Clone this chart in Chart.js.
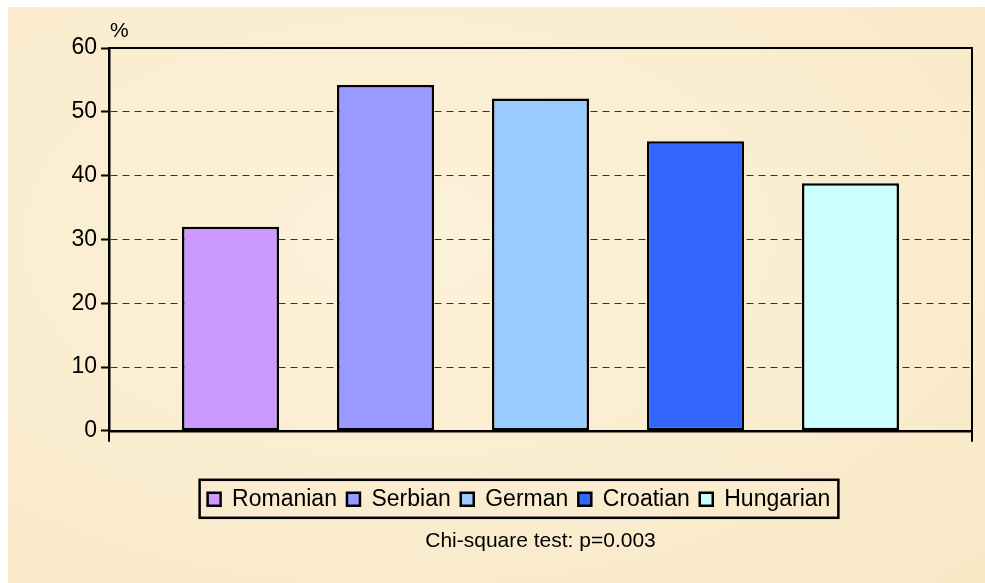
<!DOCTYPE html>
<html lang="en">
  <head>
    <meta charset="UTF-8" />
    <script src="https://cdn.jsdelivr.net/npm/chart.js@4.4.0/dist/chart.umd.min.js"></script>
    <title>Share by group</title>
    <style>
      html, body { margin: 0; padding: 0; background: #fff; }
      #wrap {
        position: absolute; left: 8px; top: 7px; width: 977px; height: 576px;
        background: radial-gradient(ellipse at 40% 40%, #fcf1da 0%, #faecce 60%, #f8e8c6 100%);
      }
    </style>
  </head>
  <body>
    <div id="wrap"><canvas id="myChart" width="977" height="576"></canvas></div>

    <script>
      const groups = ["Romanian", "Serbian", "German", "Croatian", "Hungarian"];
      const percents = [32.0, 54.2, 52.1, 45.4, 38.8];
      const colors = ["#cc99ff", "#9999ff", "#99ccff", "#3366ff", "#ccffff"];
      const yTicks = [0, 10, 20, 30, 40, 50, 60];
      const note = "Chi-square test: p=0.003";
      const FONT = "'Liberation Sans', Arial, sans-serif";
      const LEGEND_SHIFT = 29; // legend sits a bit right of the canvas middle

      // frame, end ticks, % label and box round the legend
      const decorations = {
        id: "decorations",
        afterUpdate(chart) {
          const lg = chart.legend;
          lg.left += LEGEND_SHIFT;
          lg.right += LEGEND_SHIFT;
          lg.legendHitBoxes.forEach((b) => { b.left += LEGEND_SHIFT; });
        },
        afterDraw(chart) {
          const { ctx, chartArea: a } = chart;
          ctx.save();
          ctx.strokeStyle = "#000";
          ctx.lineWidth = 2;
          ctx.beginPath();
          ctx.moveTo(a.left, a.top);
          ctx.lineTo(a.right, a.top);
          ctx.lineTo(a.right, a.bottom);
          ctx.stroke();
          ctx.beginPath();
          ctx.moveTo(a.left, a.bottom);
          ctx.lineTo(a.left, a.bottom + 11);
          ctx.moveTo(a.right, a.bottom);
          ctx.lineTo(a.right, a.bottom + 11);
          ctx.stroke();

          ctx.fillStyle = "#000";
          ctx.font = "21px " + FONT;
          ctx.textBaseline = "middle";
          ctx.fillText("%", a.left + 1, a.top - 17);

          const boxes = chart.legend.legendHitBoxes;
          if (boxes && boxes.length) {
            const l = Math.min(...boxes.map((b) => b.left)) - 8;
            const r = Math.max(...boxes.map((b) => b.left + b.width)) + 8;
            const t = Math.min(...boxes.map((b) => b.top)) - 8;
            const btm = Math.max(...boxes.map((b) => b.top + b.height)) + 7;
            ctx.lineWidth = 2.5;
            ctx.strokeRect(l, t, r - l, btm - t);
          }
          ctx.restore();
        },
      };

      const ctx = document.getElementById("myChart").getContext("2d");
      new Chart(ctx, {
        type: "bar",
        data: {
          labels: [""],
          datasets: groups.map((g, i) => ({
            label: g,
            data: [percents[i]],
            backgroundColor: colors[i],
            borderColor: "#000",
            borderWidth: 2.5,
            borderSkipped: false,
          })),
        },
        options: {
          responsive: false,
          animation: false,
          categoryPercentage: 0.898,
          barPercentage: 0.626,
          layout: { padding: { left: 0, right: 13, top: 41, bottom: 29 } },
          scales: {
            x: {
              ticks: { display: false },
              grid: { display: false },
              border: { display: true, color: "#000", width: 2.5 },
              afterFit: (s) => { s.height = 47; },
            },
            y: {
              min: 0,
              max: 60,
              afterBuildTicks: (s) => { s.ticks = yTicks.map((v) => ({ value: v })); },
              ticks: { color: "#000", font: { family: FONT, size: 23 }, padding: 4 },
              grid: {
                color: "#333",
                lineWidth: 1,
                tickLength: 8,
                tickColor: "#000",
                tickWidth: 2,
              },
              border: { display: true, color: "#000", width: 2.5, dash: [7, 5] },
              afterFit: (s) => { s.width = 101; },
            },
          },
          plugins: {
            legend: {
              position: "bottom",
              labels: {
                color: "#000",
                font: { family: FONT, size: 23 },
                boxWidth: 13,
                boxHeight: 13,
                padding: 10,
              },
            },
            subtitle: {
              display: true,
              position: "bottom",
              fullSize: false,
              text: note,
              color: "#000",
              font: { family: FONT, size: 21, weight: "normal" },
              padding: { top: 8, bottom: 0 },
            },
            tooltip: { enabled: false },
          },
        },
        plugins: [decorations],
      });
    </script>
  </body>
</html>
